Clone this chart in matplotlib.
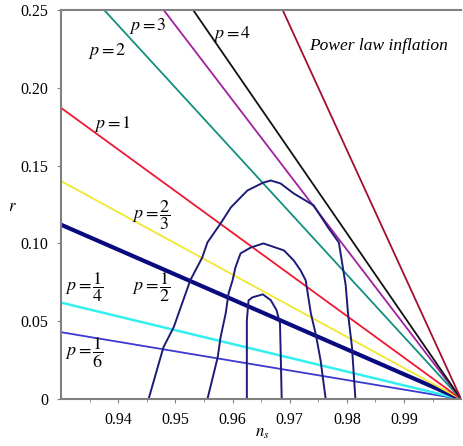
import matplotlib
matplotlib.use("Agg")
import matplotlib.pyplot as plt

plt.rcParams['font.family'] = ['Liberation Serif', 'DejaVu Serif']
plt.rcParams['mathtext.fontset'] = 'stix'

# straight lines: r at n_s = 0.93, every line ends at (1.0, 0)
line_names = ['1/6', '1/4', '1/2', '2/3', '1', '2', '3', '4', 'power']
line_r0 = [0.043, 0.062, 0.112, 0.140, 0.187, 0.280, 0.336, 0.373, 0.560]
line_colors = ['#3a3ad0', '#33f0f0', '#0a0a80', '#f0e830', '#f01830',
               '#119080', '#a020a0', '#111111', '#a01030']
line_widths = [1.3, 1.8, 3.0, 1.3, 1.3, 1.3, 1.3, 1.3, 1.3]
ns_start = 0.93
ns_end = 1.0

# contours
outer_ns = [0.9453, 0.9479, 0.9497, 0.9526, 0.9547, 0.9556, 0.9579, 0.9597,
            0.9626, 0.9654, 0.9667, 0.9684, 0.9707, 0.9742, 0.9767, 0.9786,
            0.9793, 0.9798, 0.9802, 0.9809, 0.9815]
outer_r = [0.0, 0.0333, 0.0462, 0.0763, 0.0910, 0.1006, 0.1128, 0.1231,
           0.1340, 0.1391, 0.1404, 0.1385, 0.1321, 0.1244, 0.1103, 0.1006,
           0.0846, 0.0731, 0.0551, 0.0333, 0.0]
middle_ns = [0.9556, 0.9574, 0.9579, 0.9588, 0.9593, 0.9600, 0.9605, 0.9614,
             0.9632, 0.9654, 0.9690, 0.9707, 0.9719, 0.9728, 0.9737, 0.9746,
             0.9754, 0.9763]
middle_r = [0.0, 0.0269, 0.0397, 0.0551, 0.0679, 0.0763, 0.0846, 0.0936,
            0.0974, 0.1000, 0.0955, 0.0891, 0.0827, 0.0763, 0.0551, 0.0410,
            0.0250, 0.0]
inner_ns = [0.9625, 0.9625, 0.9625, 0.9628, 0.9635, 0.9653, 0.9667, 0.9677,
            0.9683, 0.9684, 0.9686]
inner_r = [0.0, 0.0333, 0.0506, 0.0635, 0.0654, 0.0673, 0.0635, 0.0571,
           0.0487, 0.0333, 0.0]

labels = [r'$p=\dfrac{1}{6}$', r'$p=\dfrac{1}{4}$', r'$p=\dfrac{1}{2}$',
          r'$p=\dfrac{2}{3}$', r'$p=1$', r'$p=2$', r'$p=3$', r'$p=4$']
label_ns = [0.9340, 0.9340, 0.9458, 0.9458, 0.9390, 0.9381, 0.9451, 0.9600]
label_r = [0.0301, 0.0718, 0.0718, 0.1179, 0.1769, 0.2237, 0.2397, 0.2346]

fig = plt.figure(figsize=(4.63, 4.46), dpi=100)
ax = fig.add_axes([0.132, 0.105, 0.864, 0.873])

for r0, c, lw in zip(line_r0, line_colors, line_widths):
    ax.plot([ns_start, ns_end], [r0, 0.0], color=c, lw=lw)

for xs, ys in [(outer_ns, outer_r), (middle_ns, middle_r), (inner_ns, inner_r)]:
    ax.plot(xs, ys, color='#1c1c78', lw=1.4)

for t, x, y in zip(labels, label_ns, label_r):
    ax.text(x, y, t, fontsize=13, ha='center', va='center')
ax.text(0.9856, 0.2269, 'Power law inflation', fontsize=12.5, style='italic',
        ha='center', va='center')

ax.set_xlim(0.93, 1.0)
ax.set_ylim(0, 0.25)
ax.set_xticks([0.94, 0.95, 0.96, 0.97, 0.98, 0.99])
ax.set_xticklabels(['0.94', '0.95', '0.96', '0.97', '0.98', '0.99'])
ax.set_xticks([0.935 + 0.01 * i for i in range(7)], minor=True)
ax.set_yticks([0, 0.05, 0.10, 0.15, 0.20, 0.25])
ax.set_yticklabels(['0', '0.05', '0.10', '0.15', '0.20', '0.25'])
ax.tick_params(labelsize=11.5, length=3, color='#808080', pad=6)
ax.tick_params(which='minor', length=2, color='#808080')

for s in ['left', 'bottom', 'top']:
    ax.spines[s].set_color('#808080')
    ax.spines[s].set_linewidth(1.5)
ax.spines['right'].set_visible(False)

fig.text(12 / 463, 1 - 207 / 446, '$r$', fontsize=12, ha='center', va='center')
fig.text(262 / 463, 1 - 433 / 446, '$n_s$', fontsize=12, ha='center', va='center')

fig.savefig('out.png', dpi=100)
